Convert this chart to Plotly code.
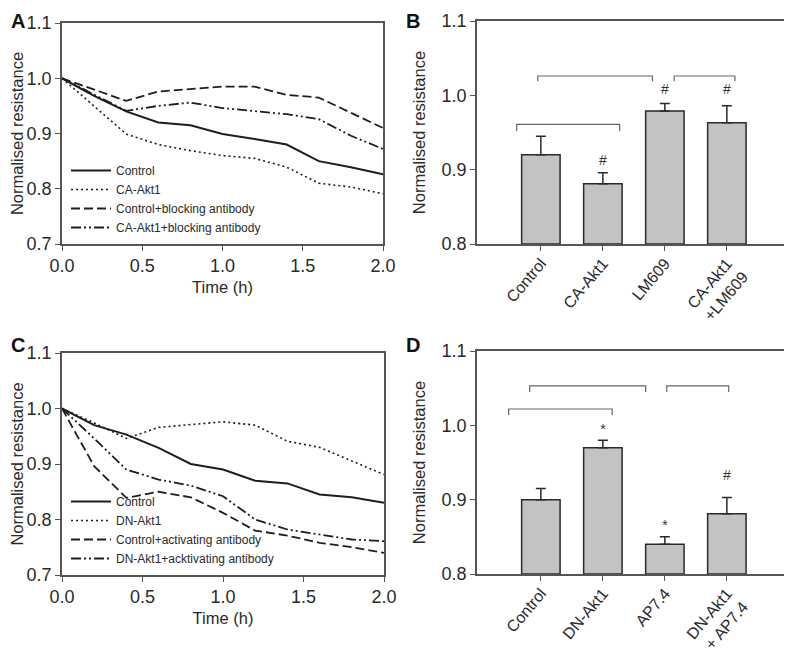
import plotly.graph_objects as go

# ---------------- data ----------------
time_h = [0.0, 0.2, 0.4, 0.6, 0.8, 1.0, 1.2, 1.4, 1.6, 1.8, 2.0]

a_names = ["Control", "CA-Akt1", "Control+blocking antibody", "CA-Akt1+blocking antibody"]
a_control = [1.0, 0.968, 0.940, 0.920, 0.915, 0.899, 0.890, 0.880, 0.850, 0.839, 0.826]
a_ca_akt1 = [1.0, 0.950, 0.899, 0.880, 0.869, 0.860, 0.855, 0.839, 0.810, 0.803, 0.791]
a_ctrl_block = [1.0, 0.980, 0.959, 0.976, 0.980, 0.985, 0.985, 0.970, 0.965, 0.938, 0.910]
a_ca_block = [1.0, 0.970, 0.941, 0.950, 0.956, 0.946, 0.940, 0.935, 0.926, 0.896, 0.872]

c_names = ["Control", "DN-Akt1", "Control+activating antibody", "DN-Akt1+acktivating antibody"]
c_control = [1.0, 0.970, 0.953, 0.929, 0.900, 0.890, 0.870, 0.865, 0.845, 0.840, 0.830]
c_dn_akt1 = [1.0, 0.974, 0.946, 0.966, 0.971, 0.976, 0.970, 0.941, 0.930, 0.905, 0.881]
c_ctrl_act = [1.0, 0.896, 0.839, 0.850, 0.840, 0.812, 0.780, 0.771, 0.758, 0.750, 0.740]
c_dn_act = [1.0, 0.946, 0.890, 0.872, 0.861, 0.842, 0.800, 0.782, 0.773, 0.764, 0.761]

b_categories = ["Control", "CA-Akt1", "LM609", "CA-Akt1<br>+LM609"]
b_means = [0.920, 0.881, 0.979, 0.963]
b_errors = [0.025, 0.015, 0.010, 0.023]
b_sig_text = ["", "#", "#", "#"]
b_sig_y = [None, 0.911, 1.007, 1.007]
# brackets: (start, end, top, leg bottom) in category units / resistance
b_brackets = [(-0.39, 1.27, 0.961, 0.952), (-0.05, 1.80, 1.026, 1.019), (2.15, 3.13, 1.026, 1.019)]

d_categories = ["Control", "DN-Akt1", "AP7.4", "DN-Akt1<br>+ AP7.4"]
d_means = [0.900, 0.970, 0.840, 0.881]
d_errors = [0.015, 0.010, 0.010, 0.022]
d_sig_text = ["", "*", "*", "#"]
d_sig_y = [None, 0.993, 0.864, 0.931]
d_brackets = [(-0.52, 1.15, 1.022, 1.014), (-0.18, 1.69, 1.053, 1.045), (2.03, 3.03, 1.053, 1.045)]

panel_letters = ["A", "B", "C", "D"]

# ---------------- styling ----------------
FONT = "Liberation Sans, Arial, sans-serif"
TXT = "#2a2a2a"
AX = "#555555"
line_styles = [
    dict(dash="solid", width=2.0),
    dict(dash="2px,3px", width=1.6),
    dict(dash="9px,4px", width=1.8),
    dict(dash="10px,3px,2px,3px,2px,3px", width=1.8),
]

# page body adds an 8px offset; the figure is sized to fill the rest of the window
OFF = 8
W, H = 792 - OFF, 656 - OFF


def px(x):
    return (x - OFF) / W


def py(y):
    return 1 - (y - OFF) / H


fig = go.Figure()

dom = {
    "A": ([px(62), px(383)], [py(244), py(23)]),
    "B": ([px(477), px(787)], [py(244), py(21)]),
    "C": ([px(62), px(384)], [py(575), py(353)]),
    "D": ([px(477), px(787)], [py(574), py(351)]),
}

# line panels
for series, names, xa, ya, leg in [
    ([a_control, a_ca_akt1, a_ctrl_block, a_ca_block], a_names, "x", "y", "legend"),
    ([c_control, c_dn_akt1, c_ctrl_act, c_dn_act], c_names, "x3", "y3", "legend2"),
]:
    for vals, name, st in zip(series, names, line_styles):
        fig.add_trace(go.Scatter(
            x=time_h, y=vals, mode="lines", name=name,
            line=dict(color="#1e1e1e", width=st["width"], dash=st["dash"]),
            xaxis=xa, yaxis=ya, legend=leg, showlegend=True,
        ))

# bar panels
for cats, means, errs, sig_t, sig_y, brackets, xa, ya in [
    (b_categories, b_means, b_errors, b_sig_text, b_sig_y, b_brackets, "x2", "y2"),
    (d_categories, d_means, d_errors, d_sig_text, d_sig_y, d_brackets, "x4", "y4"),
]:
    idx = list(range(len(cats)))
    fig.add_trace(go.Bar(
        x=idx, y=[m - 0.8 for m in means], base=0.8, width=0.62,
        marker=dict(color="#c3c3c3", line=dict(color="#2a2a2a", width=1.5)),
        error_y=dict(type="data", symmetric=False, array=errs,
                     arrayminus=[0] * len(errs), color="#2a2a2a", thickness=1.5, width=5),
        xaxis=xa, yaxis=ya, showlegend=False,
    ))
    for (x0, x1, top, leg) in brackets:
        fig.add_trace(go.Scatter(
            x=[x0, x0, x1, x1], y=[leg, top, top, leg], mode="lines",
            line=dict(color="#666666", width=1.2), xaxis=xa, yaxis=ya,
            showlegend=False, hoverinfo="skip",
        ))
    sx = [i for i, t in zip(idx, sig_t) if t]
    sy = [y for y, t in zip(sig_y, sig_t) if t]
    st = [t for t in sig_t if t]
    fig.add_trace(go.Scatter(
        x=sx, y=sy, mode="text", text=st,
        textfont=dict(family=FONT, size=14, color="#333333"),
        xaxis=xa, yaxis=ya, showlegend=False, hoverinfo="skip",
    ))

axis_common = dict(
    showline=True, linecolor=AX, linewidth=1.5, mirror=True,
    ticks="outside", ticklen=5, tickcolor=AX, tickwidth=1.2,
    showgrid=False, zeroline=False, automargin=False,
    tickfont=dict(family=FONT, size=18, color=TXT),
)
title_font = dict(family=FONT, size=16.5, color=TXT)
cat_font = dict(family=FONT, size=16, color=TXT)

layout = dict(
    template="none",
    width=W, height=H,
    margin=dict(l=0, r=0, t=0, b=0, autoexpand=False),
    paper_bgcolor="white", plot_bgcolor="white",
    font=dict(family=FONT, color=TXT),
)

# A
layout["xaxis"] = dict(axis_common, domain=dom["A"][0], range=[0, 2], tickvals=[0, 0.5, 1.0, 1.5, 2.0],
                       tickformat=".1f", anchor="y",
                       title=dict(text="Time (h)", font=title_font, standoff=6))
layout["yaxis"] = dict(axis_common, domain=dom["A"][1], range=[0.7, 1.1], tickvals=[0.7, 0.8, 0.9, 1.0, 1.1],
                       tickformat=".1f", anchor="x",
                       title=dict(text="Normalised resistance", font=title_font, standoff=10))
# B
layout["xaxis2"] = dict(axis_common, domain=dom["B"][0], range=[-1.03, 3.97],
                        tickvals=list(range(len(b_categories))), ticktext=b_categories,
                        tickangle=-50, anchor="y2", ticklabelstandoff=-3, tickfont=cat_font)
layout["yaxis2"] = dict(axis_common, domain=dom["B"][1], range=[0.8, 1.1], tickvals=[0.8, 0.9, 1.0, 1.1],
                        tickformat=".1f", anchor="x2",
                        title=dict(text="Normalised resistance", font=title_font, standoff=12))
# C
layout["xaxis3"] = dict(axis_common, domain=dom["C"][0], range=[0, 2], tickvals=[0, 0.5, 1.0, 1.5, 2.0],
                        tickformat=".1f", anchor="y3",
                        title=dict(text="Time (h)", font=title_font, standoff=6))
layout["yaxis3"] = dict(axis_common, domain=dom["C"][1], range=[0.7, 1.1], tickvals=[0.7, 0.8, 0.9, 1.0, 1.1],
                        tickformat=".1f", anchor="x3",
                        title=dict(text="Normalised resistance", font=title_font, standoff=10))
# D
layout["xaxis4"] = dict(axis_common, domain=dom["D"][0], range=[-1.03, 3.97],
                        tickvals=list(range(len(d_categories))), ticktext=d_categories,
                        tickangle=-50, anchor="y4", ticklabelstandoff=-3, tickfont=cat_font)
layout["yaxis4"] = dict(axis_common, domain=dom["D"][1], range=[0.8, 1.1], tickvals=[0.8, 0.9, 1.0, 1.1],
                        tickformat=".1f", anchor="x4",
                        title=dict(text="Normalised resistance", font=title_font, standoff=12))

legend_common = dict(
    bgcolor="rgba(0,0,0,0)", borderwidth=0,
    font=dict(family=FONT, size=12, color=TXT),
    xanchor="left", yanchor="bottom", tracegroupgap=0, itemwidth=40,
)
layout["legend"] = dict(legend_common, x=px(66), y=py(242))
layout["legend2"] = dict(legend_common, x=px(66), y=py(573))

fig.update_layout(**layout)

letter_pos = [(9, 8), (404, 8), (9, 332), (404, 332)]
for letter, (lx, ly) in zip(panel_letters, letter_pos):
    fig.add_annotation(
        text="<b>%s</b>" % letter, xref="paper", yref="paper",
        x=px(lx), y=py(ly), xanchor="left", yanchor="top",
        showarrow=False, font=dict(family=FONT, size=20, color="#111111"),
    )

fig.write_html("out.html")
